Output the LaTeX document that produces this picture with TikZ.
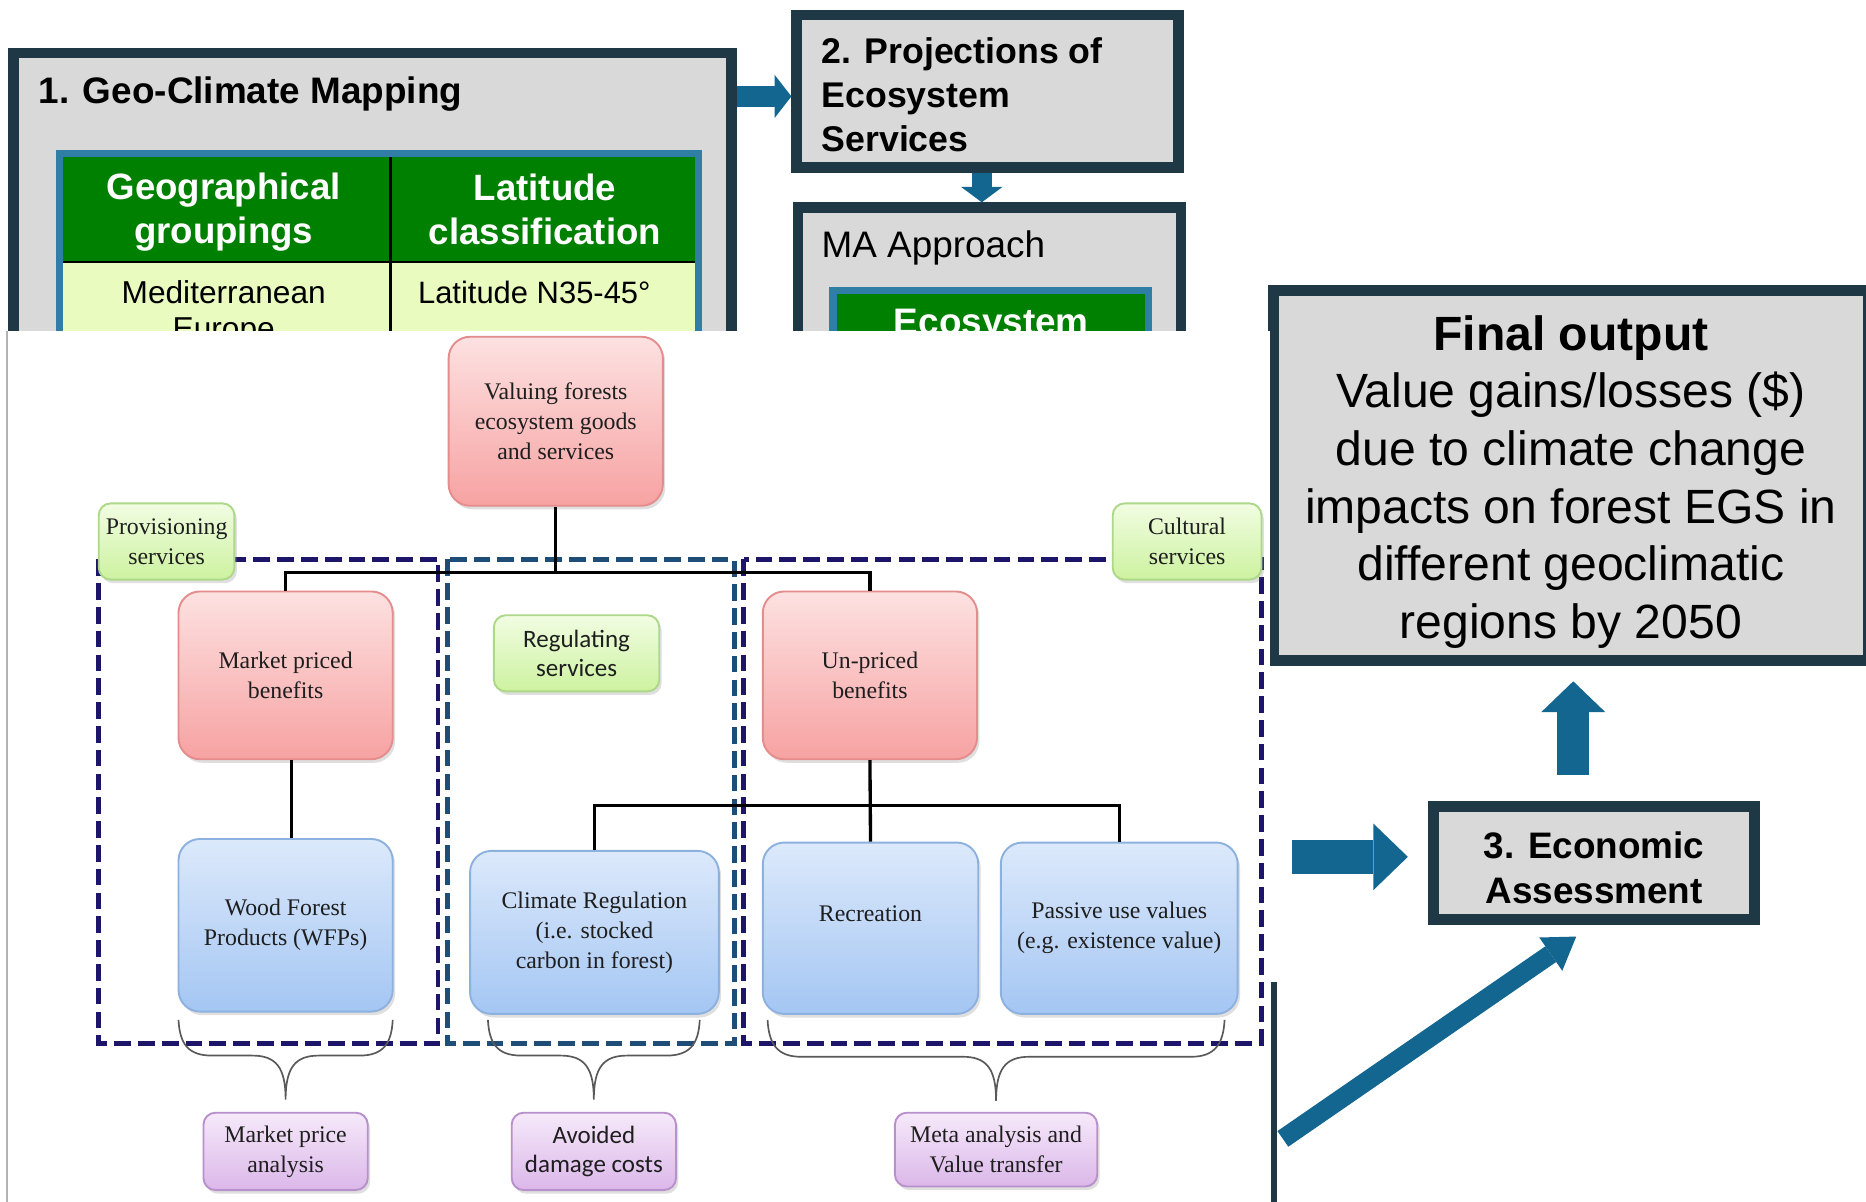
\documentclass[tikz,border=0pt]{standalone}
\usepackage{fontspec}
\setmainfont{Liberation Serif}
\newfontfamily\arialf{Liberation Sans}
\newfontfamily\calibf{Carlito}
\usetikzlibrary{arrows.meta,shadows,calc}
\definecolor{frame}{HTML}{1F3845}
\definecolor{boxgray}{HTML}{D9D9D9}
\definecolor{tblblue}{HTML}{2F7EA5}
\definecolor{hdrgreen}{HTML}{008000}
\definecolor{rowgreen}{HTML}{EAFBC0}
\definecolor{arrowblue}{HTML}{13668F}
\definecolor{navydash}{HTML}{1C1569}
\definecolor{tealdash}{HTML}{1E4D78}
\definecolor{pinktop}{HTML}{FDE1E1}
\definecolor{pinkbot}{HTML}{F7A2A2}
\definecolor{pinkline}{HTML}{E58C8C}
\definecolor{bluetop}{HTML}{DCE9FB}
\definecolor{bluebot}{HTML}{A4C6F3}
\definecolor{blueline}{HTML}{8DB1DF}
\definecolor{greentop}{HTML}{F1FDE2}
\definecolor{greenbot}{HTML}{CDF2A0}
\definecolor{greenline}{HTML}{ADD889}
\definecolor{purptop}{HTML}{F6E9FA}
\definecolor{purpbot}{HTML}{DBB7E9}
\definecolor{purpline}{HTML}{B890CC}
\definecolor{txtdark}{HTML}{1E1E1E}
\newcommand{\serifsz}{\fontsize{10}{12.6}\selectfont}
\newcommand{\calsz}{\calibf\fontsize{10.5}{12.5}\selectfont}
\newcommand{\egsbrace}[5]{%
 \draw[bracel] (#1,#4) .. controls (#1+1,#4+20) and (#1+8,#5) .. (#1+28,#5) -- (#3-28,#5) .. controls (#3-8,#5) and (#3,#5+10) .. (#3,#5+37) .. controls (#3,#5+10) and (#3+8,#5) .. (#3+28,#5) -- (#2-28,#5) .. controls (#2-8,#5) and (#2-1,#4+20) .. (#2,#4);}
\begin{document}
\begin{tikzpicture}[x=0.5pt,y=-0.5pt,
 frbox/.style={draw=frame, line width=4.5pt, fill=boxgray, inner sep=0pt, align=center},
 boldsans/.style={font=\arialf\bfseries\fontsize{15.5}{19}\selectfont},
 softbox/.style={line width=0.8pt, align=center, inner sep=2pt, text=txtdark, font=\serifsz,
   drop shadow={opacity=0.25, shadow xshift=1pt, shadow yshift=-1.5pt}},
 pinkbox/.style={softbox, draw=pinkline, top color=pinktop, bottom color=pinkbot, rounded corners=9pt},
 bluebox/.style={softbox, draw=blueline, top color=bluetop, bottom color=bluebot, rounded corners=9pt},
 greenbox/.style={softbox, draw=greenline, top color=greentop, bottom color=greenbot, rounded corners=5pt},
 purpbox/.style={softbox, draw=purpline, top color=purptop, bottom color=purpbot, rounded corners=5pt},
 dashnavy/.style={draw=navydash, line width=2pt, dash pattern=on 7pt off 3pt},
 dashteal/.style={draw=tealdash, line width=2pt, dash pattern=on 7pt off 3pt},
 link/.style={draw=black, line width=1.4pt},
 bracel/.style={draw=black!65, line width=0.7pt},
]
\useasboundingbox (0,0) rectangle (1568,1010);
\clip (0,0) rectangle (1568,1010);

% ---------- top boxes ----------
\node[frbox, minimum width=301.5pt, minimum height=132.75pt] (geo) at (313,177.25) {};
\node[boldsans, anchor=base west, inner sep=0pt] (geot) at (32,87) {1. Geo-Climate Mapping};
\node[draw=tblblue, line width=3pt, fill=rowgreen, minimum width=268.5pt, minimum height=90.5pt, inner sep=0pt] (tbl) at (318.5,219.5) {};
\fill[hdrgreen] (53,132) rectangle (584,220);
\draw[black, line width=1pt] (328,132) -- (328,312);
\draw[black, line width=1pt] (53,220) -- (584,220);
\node[text=white, align=center, font=\arialf\bfseries\fontsize{15.4}{18.5}\selectfont] (hd1) at (188,178) {Geographical\\groupings};
\node[text=white, align=center, font=\arialf\bfseries\fontsize{15.4}{18.5}\selectfont] (hd2) at (458,176) {Latitude\\classification};
\node[align=center, font=\arialf\fontsize{13.3}{15}\selectfont] (bd1) at (188,263) {Mediterranean\\Europe};
\node[font=\arialf\fontsize{13}{15}\selectfont] (bd2) at (449,246) {Latitude N35-45°};

\node[frbox, minimum width=160.5pt, minimum height=64pt] (proj) at (830,76.5) {};
\node[anchor=west, align=left, inner sep=0pt, font=\arialf\bfseries\fontsize{15}{18.5}\selectfont] (projt) at (690,80) {2. Projections of\\Ecosystem\\Services};

\node[frbox, minimum width=161pt, minimum height=67.75pt] (ma) at (831.5,242.25) {};
\node[anchor=base west, inner sep=0pt, font=\arialf\fontsize{15.5}{19}\selectfont] (mat) at (690,216) {MA Approach};
\node[draw=tblblue, line width=3pt, fill=hdrgreen, minimum width=132.5pt, minimum height=33pt, inner sep=0pt] (ecot) at (832.5,277) {};
\node[boldsans, text=white, anchor=base, inner sep=0pt] (ecotx) at (833,281) {Ecosystem};

\draw[arrowblue, line width=8.5pt, -{Triangle[width=18pt, length=7pt, line width=0pt]}] (geo.east |- 0,81) -- (proj.west |- 0,81);
\draw[arrowblue, line width=8.5pt, -{Triangle[width=17.5pt, length=6.5pt, line width=0pt]}] (proj.south -| 825,0) -- (ma.north -| 825,0);

\node[frbox, minimum width=250pt, minimum height=155.5pt] (final) at (1320,399.5) {};
\node[align=center, inner sep=0pt, font=\arialf\fontsize{20.2}{24.25}\selectfont] (fint) at (1320,405)
 {\textbf{Final output}\\Value gains/losses (\$)\\due to climate change\\impacts on forest EGS in\\different geoclimatic\\regions by 2050};

% ---------- overlay panel ----------
\fill[white] (4,278) rectangle (1067,1015);
\draw[black!30, line width=0.6pt] (6,278) -- (6,1015);
\draw[frame, line width=2.5pt] (1070.5,825) -- (1070.5,1015);

% ---------- economic assessment ----------
\node[frbox, minimum width=135pt, minimum height=47.5pt] (econ) at (1339.5,725) {};
\node[boldsans, align=center, inner sep=0pt] (econt) at (1339.5,729.5) {3. Economic\\Assessment};
\coordinate (rstart) at (1086,720);
\coordinate (dstart) at (1078,957);
\draw[arrowblue, line width=14pt, -{Triangle[width=28pt, length=14.5pt, line width=0pt]}] (rstart) -- ([xshift=-8.5pt]econ.west |- rstart);
\draw[arrowblue, line width=13.5pt, -{Triangle[width=27pt, length=13pt, line width=0pt]}] ([shift={(-17.5,-22)}]econ.north) -- ([shift={(2,13)}]final.south);
\draw[arrowblue, line width=8pt, -{Triangle[width=17pt, length=13pt, line width=0pt]}] (dstart) -- ([shift={(-15,10)}]econ.south);

% ---------- lower diagram ----------
\draw[dashnavy] (83,470) rectangle (368,877);
\draw[dashteal] (376,470) rectangle (617,877);
\draw[dashnavy] (625,470) rectangle (1060,877);

\node[pinkbox, minimum width=90pt, minimum height=71pt] (valuing) at (467,354) {Valuing forests\\ecosystem goods\\and services};
\node[greenbox, minimum width=57pt, minimum height=32pt] (prov) at (140,455) {Provisioning\\services};
\node[greenbox, minimum width=62.5pt, minimum height=32pt] (cult) at (997.5,455) {Cultural\\services};
\node[greenbox, minimum width=69.5pt, minimum height=32pt, font=\calsz] (reg) at (484.5,549) {Regulating\\services};
\node[pinkbox, minimum width=90pt, minimum height=70.5pt] (market) at (240,567.5) {Market priced\\benefits};
\node[pinkbox, minimum width=90pt, minimum height=70.5pt] (unpriced) at (731,567.5) {Un-priced\\benefits};
\node[bluebox, minimum width=90pt, minimum height=72.5pt] (wood) at (240,777.5) {Wood Forest\\Products (WFPs)};
\node[bluebox, minimum width=104.5pt, minimum height=68.5pt] (climate) at (499.5,783.5) {Climate Regulation\\(i.e. stocked\\carbon in forest)};
\node[bluebox, minimum width=90.5pt, minimum height=72pt] (recre) at (731.5,780) {Recreation\\\mbox{}};
\node[bluebox, minimum width=99.5pt, minimum height=72pt] (passive) at (940.5,780) {Passive use values\\(e.g. existence value)};
\node[purpbox, minimum width=69pt, minimum height=32.5pt] (mpa) at (240,967.5) {Market price\\analysis};
\node[purpbox, minimum width=69pt, minimum height=32.5pt, font=\calsz] (adc) at (499,967.5) {Avoided\\damage costs};
\node[purpbox, minimum width=85pt, minimum height=31pt] (meta) at (837,966) {Meta analysis and\\Value transfer};

\coordinate (j1) at (467,481);
\coordinate (j2) at (731,677);
\draw[link] (valuing.south) -- (j1);
\draw[link] (market.north) |- (j1) -| (unpriced.north);
\draw[link] ([xshift=2.5pt]market.south) -- ([xshift=2.5pt]wood.north);
\draw[link] (unpriced.south) -- (recre.north);
\draw[link] (climate.north) |- (j2) -| (passive.north);

\egsbrace{150}{330}{240}{857}{887}
\egsbrace{410}{588}{499}{857}{887}
\egsbrace{645}{1029}{837}{857}{888}
\end{tikzpicture}
\end{document}
